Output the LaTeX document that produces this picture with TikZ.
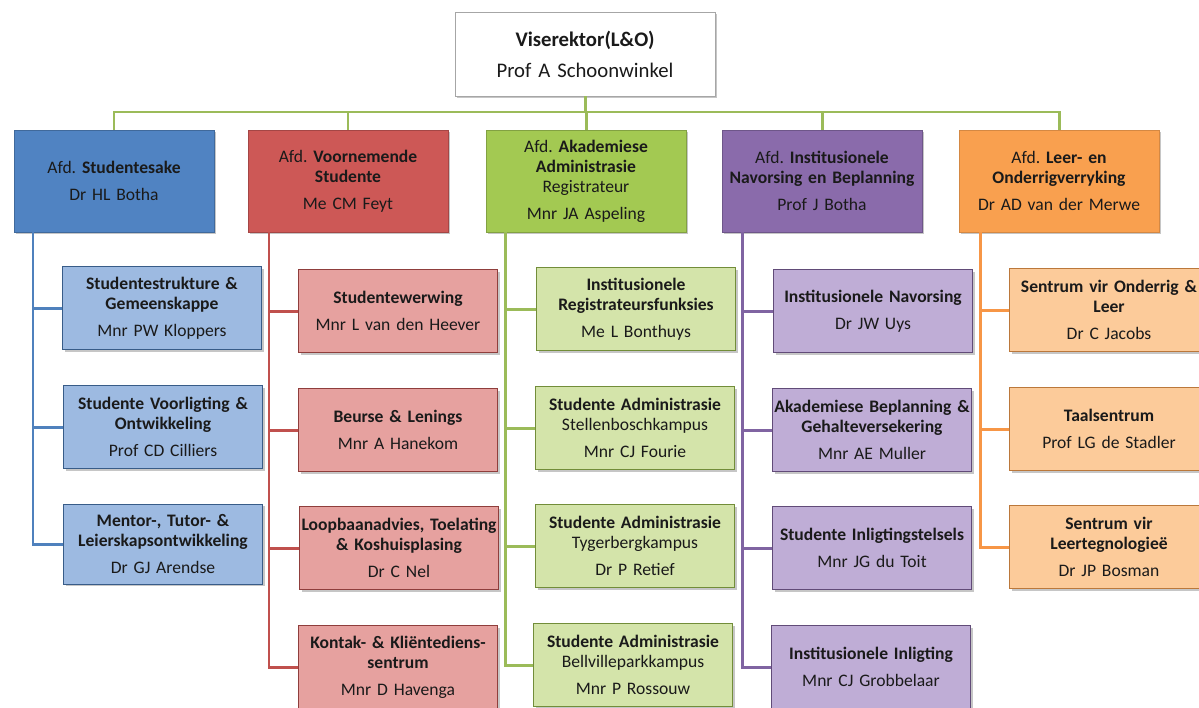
\documentclass[tikz,border=0pt]{standalone}
\usepackage{fontspec}
\setmainfont{Carlito}[WordSpace=0.7]
\usetikzlibrary{shadows}

% line colours
\definecolor{lnblue}{HTML}{4F81BD}
\definecolor{lnred}{HTML}{C0504D}
\definecolor{lngreen}{HTML}{9BBB59}
\definecolor{lnpurple}{HTML}{8064A2}
\definecolor{lnorange}{HTML}{F79646}
% box colours
\definecolor{hdblue}{HTML}{5083C2}
\definecolor{hdred}{HTML}{CD5856}
\definecolor{hdgreen}{HTML}{A3C952}
\definecolor{hdpurple}{HTML}{8A6BAB}
\definecolor{hdorange}{HTML}{F9A04F}
\definecolor{sbblue}{HTML}{9DBAE1}
\definecolor{sbred}{HTML}{E6A19F}
\definecolor{sbgreen}{HTML}{D4E4AA}
\definecolor{sbpurple}{HTML}{BFADD6}
\definecolor{sborange}{HTML}{FCCB9A}
\definecolor{txt}{HTML}{1A1A1A}

\frenchspacing

\begin{document}
\begin{tikzpicture}[x=0.02cm, y=-0.02cm,
    box/.style={rectangle, inner sep=0pt, align=center, text=txt,
        font=\fontsize{10}{11.4}\selectfont, text width=3.95cm,
        drop shadow={opacity=0.45, shadow xshift=1.2pt, shadow yshift=-1.2pt}},
    dept/.style={box, minimum width=4cm, minimum height=2.04cm},
    sub/.style={box, minimum width=3.98cm, minimum height=1.66cm},
    conn/.style={line width=1.7pt}]
    \useasboundingbox (0,0) rectangle (1199,707);

    % Viserektor
    \node[box, fill=white, draw=black!35, minimum width=5.2cm, minimum height=1.68cm,
        text width=5cm, font=\fontsize{11.8}{13.5}\selectfont] (vr) at (585,54)
        {\textbf{Viserektor(L\&O)}\\[4pt] Prof A Schoonwinkel};
    \coordinate (bar) at (585,112);

    % Afdelings
    \node[dept, fill=hdblue, draw=hdblue!80!black] (dA) at (114,181)
        {Afd. \textbf{Studentesake}\\[4pt] Dr HL Botha};
    \node[dept, fill=hdred, draw=hdred!80!black] (dB) at (348,181)
        {Afd. \textbf{Voornemende}\\ \textbf{Studente}\\[4pt] Me CM Feyt};
    \node[dept, fill=hdgreen, draw=hdgreen!80!black] (dC) at (586,181)
        {Afd. \textbf{Akademiese}\\ \textbf{Administrasie}\\ Registrateur\\[4pt] Mnr JA Aspeling};
    \node[dept, fill=hdpurple, draw=hdpurple!80!black] (dD) at (822,181)
        {Afd. \textbf{Institusionele}\\ \textbf{Navorsing en Beplanning}\\[4pt] Prof J Botha};
    \node[dept, fill=hdorange, draw=hdorange!85!black] (dE) at (1059,181)
        {Afd. \textbf{Leer- en}\\ \textbf{Onderrigverryking}\\[4pt] Dr AD van der Merwe};

    % Lyne na afdelings
    \draw[conn, lngreen] (vr) -- (bar);
    \foreach \d in {dA,dB,dC,dD,dE}
        \draw[conn, lngreen] (bar) -| (\d);

    % Studentesake
    \node[sub, fill=sbblue, draw=hdblue!70!black] (b1) at (162,308)
        {\textbf{Studentestrukture \&}\\ \textbf{Gemeenskappe}\\[4pt] Mnr PW Kloppers};
    \node[sub, fill=sbblue, draw=hdblue!70!black] (b2) at (163,427)
        {\textbf{Studente Voorligting \&}\\ \textbf{Ontwikkeling}\\[4pt] Prof CD Cilliers};
    \node[sub, fill=sbblue, draw=hdblue!70!black, minimum height=1.6cm] (b3) at (163,544)
        {\textbf{Mentor-, Tutor- \&}\\ \textbf{Leierskapsontwikkeling}\\[4pt] Dr GJ Arendse};
    \coordinate (bx) at (33,232);
    \foreach \s in {b1,b2,b3}
        \draw[conn, lnblue] (bx) |- (\s);

    % Voornemende Studente
    \node[sub, fill=sbred, draw=hdred!70!black] (r1) at (398,311)
        {\textbf{Studentewerwing}\\[4pt] Mnr L van den Heever};
    \node[sub, fill=sbred, draw=hdred!70!black] (r2) at (398,430)
        {\textbf{Beurse \& Lenings}\\[4pt] Mnr A Hanekom};
    \node[sub, fill=sbred, draw=hdred!70!black] (r3) at (399,548)
        {\textbf{Loopbaanadvies, Toelating}\\ \textbf{\& Koshuisplasing}\\[4pt] Dr C Nel};
    \node[sub, fill=sbred, draw=hdred!70!black] (r4) at (398,667)
        {\textbf{Kontak- \& Kliëntediens-}\\ \textbf{sentrum}\\[4pt] Mnr D Havenga};
    \coordinate (rx) at (269,232);
    \foreach \s in {r1,r2,r3,r4}
        \draw[conn, lnred] (rx) |- (\s);

    % Akademiese Administrasie
    \node[sub, fill=sbgreen, draw=hdgreen!70!black] (g1) at (636,309)
        {\textbf{Institusionele}\\ \textbf{Registrateursfunksies}\\[4pt] Me L Bonthuys};
    \node[sub, fill=sbgreen, draw=hdgreen!70!black] (g2) at (635,428)
        {\textbf{Studente Administrasie}\\ Stellenboschkampus\\[4pt] Mnr CJ Fourie};
    \node[sub, fill=sbgreen, draw=hdgreen!70!black] (g3) at (635,546)
        {\textbf{Studente Administrasie}\\ Tygerbergkampus\\[4pt] Dr P Retief};
    \node[sub, fill=sbgreen, draw=hdgreen!70!black] (g4) at (633,665)
        {\textbf{Studente Administrasie}\\ Bellvilleparkkampus\\[4pt] Mnr P Rossouw};
    \coordinate (gx) at (505,232);
    \foreach \s in {g1,g2,g3,g4}
        \draw[conn, lngreen] (gx) |- (\s);

    % Institusionele Navorsing en Beplanning
    \node[sub, fill=sbpurple, draw=hdpurple!70!black] (p1) at (873,311)
        {\textbf{Institusionele Navorsing}\\[4pt] Dr JW Uys};
    \node[sub, fill=sbpurple, draw=hdpurple!70!black] (p2) at (872,430)
        {\textbf{Akademiese Beplanning \&}\\ \textbf{Gehalteversekering}\\[4pt] Mnr AE Muller};
    \node[sub, fill=sbpurple, draw=hdpurple!70!black] (p3) at (872,548)
        {\textbf{Studente Inligtingstelsels}\\[4pt] Mnr JG du Toit};
    \node[sub, fill=sbpurple, draw=hdpurple!70!black] (p4) at (871,667)
        {\textbf{Institusionele Inligting}\\[4pt] Mnr CJ Grobbelaar};
    \coordinate (px) at (742,232);
    \foreach \s in {p1,p2,p3,p4}
        \draw[conn, lnpurple] (px) |- (\s);

    % Leer- en Onderrigverryking
    \node[sub, fill=sborange, draw=hdorange!75!black] (o1) at (1109,310)
        {\textbf{Sentrum vir Onderrig \&}\\ \textbf{Leer}\\[4pt] Dr C Jacobs};
    \node[sub, fill=sborange, draw=hdorange!75!black] (o2) at (1109,429)
        {\textbf{Taalsentrum}\\[4pt] Prof LG de Stadler};
    \node[sub, fill=sborange, draw=hdorange!75!black] (o3) at (1109,547)
        {\textbf{Sentrum vir}\\ \textbf{Leertegnologieë}\\[4pt] Dr JP Bosman};
    \coordinate (ox) at (980,232);
    \foreach \s in {o1,o2,o3}
        \draw[conn, lnorange] (ox) |- (\s);
\end{tikzpicture}
\end{document}
